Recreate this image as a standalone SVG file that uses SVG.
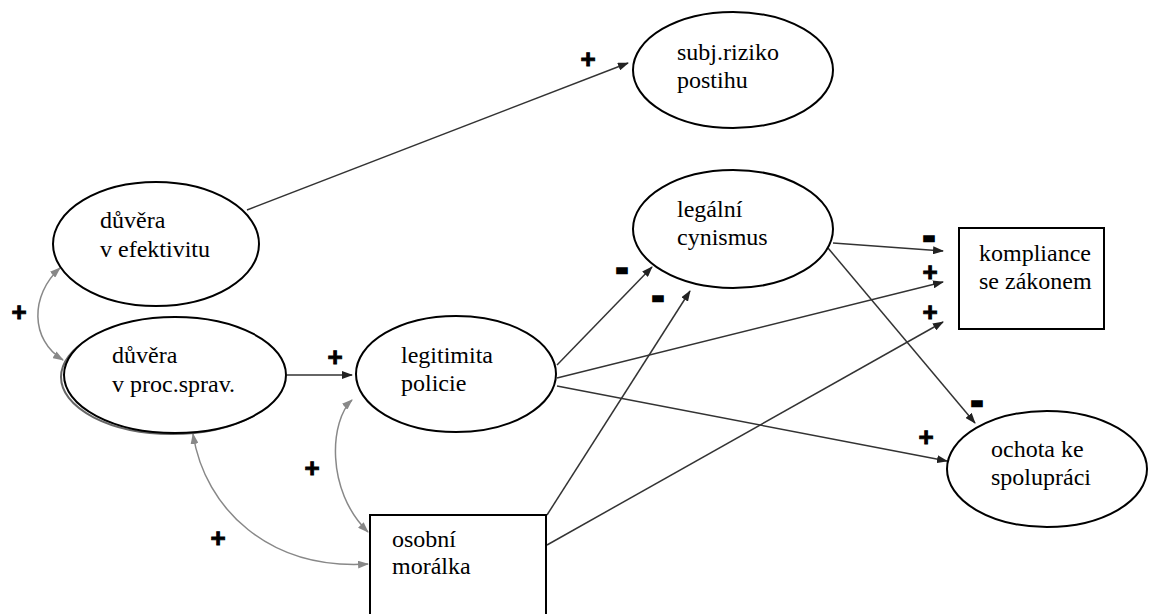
<svg xmlns="http://www.w3.org/2000/svg" width="1151" height="614" viewBox="0 0 1151 614">
<style>
.n{fill:#fff;stroke:#000;stroke-width:2}
.t{font-family:"Liberation Serif","Times New Roman",serif;font-size:24px;fill:#000}
.e{fill:none;stroke:#333;stroke-width:1.5}
.c{fill:none;stroke:#888;stroke-width:1.5}
.p{font-family:"Liberation Sans",Arial,sans-serif;font-weight:bold;font-size:26px;text-anchor:middle;fill:#000;stroke:#000;stroke-width:0.9}
.m{font-family:"Liberation Sans",Arial,sans-serif;font-weight:bold;font-size:36px;text-anchor:middle;fill:#000;stroke:#000;stroke-width:2.5}
</style>
<defs>
<marker id="a" markerUnits="userSpaceOnUse" markerWidth="11" markerHeight="8" refX="10" refY="4" orient="auto"><path d="M0,0 L11,4 L0,8 z" fill="#222"/></marker>
<marker id="g" markerUnits="userSpaceOnUse" markerWidth="11" markerHeight="8" refX="10" refY="4" orient="auto-start-reverse"><path d="M0,0 L11,4 L0,8 z" fill="#888"/></marker>
</defs>
<rect width="1151" height="614" fill="#fff"/>
<g id="connectors">
<path class="e" d="M247,210 L628,63" marker-end="url(#a)"/>
<path class="c" d="M60,268 C30,295 30,340 63,360" marker-start="url(#g)" marker-end="url(#g)"/>
<path class="e" d="M287,375 L352,375" marker-end="url(#a)"/>
<path class="c" d="M352,400 C330,420 325,490 368,532" marker-start="url(#g)" marker-end="url(#g)"/>
<path class="c" d="M193,434 C205,510 270,570 368,564" marker-start="url(#g)" marker-end="url(#g)"/>
<path class="e" d="M557,365 L652,267" marker-end="url(#a)"/>
<path class="e" d="M547,515 L690,291" marker-end="url(#a)"/>
<path class="e" d="M557,378 L943,282" marker-end="url(#a)"/>
<path class="e" d="M547,545 L943,322" marker-end="url(#a)"/>
<path class="e" d="M833,243 L943,251" marker-end="url(#a)"/>
<path class="e" d="M828,248 L975,423" marker-end="url(#a)"/>
<path class="e" d="M557,386 L947,461" marker-end="url(#a)"/>
<text class="p" x="588" y="68">+</text>
<text class="p" x="19" y="321">+</text>
<text class="p" x="335" y="366">+</text>
<text class="p" x="312" y="477">+</text>
<text class="p" x="218" y="547">+</text>
<text class="p" x="930" y="281">+</text>
<text class="p" x="930" y="321">+</text>
<text class="p" x="926" y="446">+</text>
<text class="m" x="622" y="280">-</text>
<text class="m" x="658" y="308">-</text>
<text class="m" x="929" y="248">-</text>
<text class="m" x="977" y="413">-</text>
</g>
<g id="subj-riziko">
<ellipse class="n" cx="733" cy="70" rx="100" ry="58"/>
<text class="t" x="677" y="60">subj.riziko</text>
<text class="t" x="677" y="88">postihu</text>
</g>
<g id="duvera-efektivita">
<ellipse class="n" cx="156" cy="244" rx="103" ry="62"/>
<text class="t" x="100" y="228">důvěra</text>
<text class="t" x="100" y="257">v efektivitu</text>
</g>
<g id="duvera-proc">
<ellipse cx="172" cy="377" rx="111" ry="57" fill="none" stroke="#666" stroke-width="2"/>
<ellipse class="n" cx="175" cy="375" rx="111" ry="58"/>
<text class="t" x="112" y="363">důvěra</text>
<text class="t" x="112" y="392">v proc.sprav.</text>
</g>
<g id="legitimita">
<ellipse class="n" cx="456" cy="374" rx="100" ry="58"/>
<text class="t" x="401" y="363">legitimita</text>
<text class="t" x="401" y="391">policie</text>
</g>
<g id="legalni-cynismus">
<ellipse class="n" cx="733" cy="229" rx="100" ry="59"/>
<text class="t" x="677" y="217">legální</text>
<text class="t" x="677" y="245">cynismus</text>
</g>
<g id="kompliance">
<rect class="n" x="959" y="228" width="145" height="101"/>
<text class="t" x="979" y="261">kompliance</text>
<text class="t" x="979" y="289">se zákonem</text>
</g>
<g id="ochota">
<ellipse class="n" cx="1047" cy="469" rx="100" ry="58"/>
<text class="t" x="991" y="457">ochota ke</text>
<text class="t" x="991" y="485">spolupráci</text>
</g>
<g id="osobni-moralka">
<rect class="n" x="370" y="515" width="176" height="110"/>
<text class="t" x="392" y="547">osobní</text>
<text class="t" x="392" y="574">morálka</text>
</g>
</svg>
